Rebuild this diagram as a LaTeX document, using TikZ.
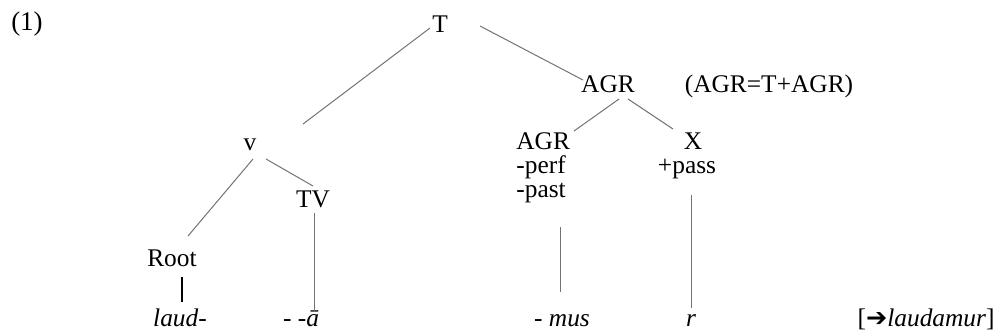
\documentclass[tikz,border=0pt]{standalone}
\usepackage{fontspec}
\setmainfont{LiberationSerif}[Extension=.ttf, UprightFont=*-Regular,
  ItalicFont=*-Italic, BoldFont=*-Bold, BoldItalicFont=*-BoldItalic]
\newfontfamily\arrowfont{DejaVu Sans}
\usepackage{tikz}

\tikzset{
  lbl/.style={inner sep=0pt, anchor=base},
  branch/.style={draw=black!55, line width=0.5pt}
}

\begin{document}
\begin{tikzpicture}[x=0.5pt, y=-0.5pt, font=\fontsize{12.7}{15}\selectfont]
    \useasboundingbox (0,0) rectangle (995,334);
    \node[lbl] (num) at (27,30) {\fontsize{13.5}{15}\selectfont(1)};
    \node[lbl] (T) at (440,32) {T};
    \node[lbl] (agr) at (608,92) {AGR};
    \node[lbl] (note) at (769,92) {(AGR=T+AGR)};
    \node[lbl] (v) at (250,150) {v};
    \node[lbl, anchor=base west] (agrl) at (516,149) {AGR};
    \node[lbl, anchor=base west] (perf) at (516,173) {-perf};
    \node[lbl, anchor=base west] (past) at (516,197) {-past};
    \node[lbl] (x) at (693,149) {X};
    \node[lbl] (pass) at (687,173) {+pass};
    \node[lbl] (tv) at (313,207) {TV};
    \node[lbl] (root) at (172,266) {Root};
    \node[lbl] (laud) at (180,326) {\textit{laud-}};
    \node[lbl] (ta) at (301,326) {- -\textit{ā}};
    \node[lbl] (mus) at (562,326) {- \textit{mus}};
    \node[lbl] (r) at (691,326) {\textit{r}};
    \node[lbl, anchor=base east] (res) at (995,326) {[{\arrowfont\bfseries ➔}\textit{laudamur}]};
    % branches
    \draw[branch] ([shift={(-10,-4)}]T.base) -- ([shift={(53,-26)}]v.base);
    \draw[branch] ([shift={(40,-6)}]T.base) -- ([shift={(-25,-12)}]agr.base);
    \draw[branch] ([shift={(11,7)}]agr.base) -- ([shift={(58,-18)}]agrl.base west);
    \draw[branch] ([shift={(20,7)}]agr.base) -- ([shift={(-20,-20)}]x.base);
    \draw[branch] ([shift={(3,9)}]v.base) -- ([shift={(16,-30)}]root.base);
    \draw[branch] ([shift={(16,9)}]v.base) -- ([shift={(0,-21)}]tv.base);
    \draw[branch] ([shift={(1,6)}]tv.base) -- ([shift={(13,-14)}]ta.base);
    \draw[line width=0.6pt] ([shift={(10,11)}]root.base) -- ([shift={(2,-24)}]laud.base);
    \draw[branch] ([shift={(44,30)}]past.base west) -- ([shift={(-2,-34)}]mus.base);
    \draw[branch] ([shift={(4,22)}]pass.base) -- ([shift={(0,-18)}]r.base);
\end{tikzpicture}
\end{document}
